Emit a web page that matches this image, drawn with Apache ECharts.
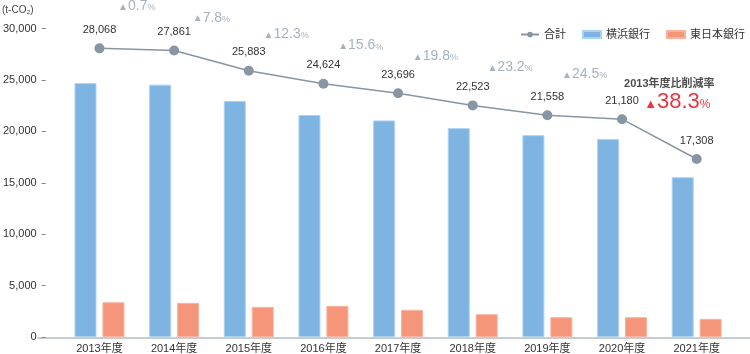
<!DOCTYPE html>
<html lang="ja">
<head>
    <meta charset="UTF-8">
    <title>CO2排出量</title>
    <script src="https://cdn.jsdelivr.net/npm/echarts@6/dist/echarts.min.js"></script>
    <style>
        html, body { margin: 0; padding: 0; background: #fff; }
        #chart { width: 750px; height: 354px; }
    </style>
</head>
<body>
<div id="chart"></div>
<script>
    var years = ['2013年度', '2014年度', '2015年度', '2016年度', '2017年度', '2018年度', '2019年度', '2020年度', '2021年度'];
    var totals = [28068, 27861, 25883, 24624, 23696, 22523, 21558, 21180, 17308];
    var yokohama = [24690, 24540, 22950, 21590, 21060, 20310, 19630, 19250, 15540];
    var higashiNihon = [3380, 3320, 2930, 3030, 2640, 2215, 1925, 1925, 1765];
    var cutRates = ['0.7', '7.8', '12.3', '15.6', '19.8', '23.2', '24.5', '38.3'];
    var yTicks = [0, 5000, 10000, 15000, 20000, 25000, 30000];

    var font = "'Liberation Sans', 'Noto Sans CJK JP', sans-serif";
    var gray = '#8796a2';

    // anchors for the reduction labels: halfway between two neighbouring totals
    var rateData = [];
    for (var i = 0; i < cutRates.length; i++) {
        var item = {
            value: [i + 0.5, (totals[i] + totals[i + 1]) / 2],
            rate: cutRates[i]
        };
        if (i === cutRates.length - 1) {
            item.label = {
                offset: [18, -37],
                formatter: function (p) {
                    return '{a|▲}{b|' + p.data.rate + '}{c|%}';
                },
                rich: {
                    a: { color: '#e60012', fontSize: 13, fontFamily: font, verticalAlign: 'bottom', padding: [0, 0, 2, 0] },
                    b: { color: '#e60012', fontSize: 22, fontFamily: font },
                    c: { color: '#e60012', fontSize: 12, fontFamily: font, verticalAlign: 'bottom', padding: [0, 0, 2, 0] }
                }
            };
        }
        rateData.push(item);
    }
    var last = rateData[rateData.length - 1].value;
    var titleData = [{
        value: [last[0], last[1]],
        label: { offset: [10, -55], formatter: '2013年度比削減率' }
    }];

    var chart = echarts.init(document.getElementById('chart'));
    var option = {
        animation: false,
        textStyle: { fontFamily: font },
        title: {
            text: '(t-CO₂)',
            left: 2,
            top: 5,
            padding: 0,
            textStyle: { color: '#444', fontSize: 10, fontWeight: 'normal', fontFamily: font }
        },
        legend: {
            top: 24,
            right: 0,
            itemGap: 16,
            itemWidth: 18,
            itemHeight: 7,
            textStyle: { fontSize: 11, color: '#333', fontFamily: font },
            data: [
                { name: '合計' },
                { name: '横浜銀行', icon: 'rect' },
                { name: '東日本銀行', icon: 'rect' }
            ]
        },
        grid: [
            { left: 58.5, right: 16, top: 28.5, bottom: 16.5 },
            { left: 38, right: 0, top: 28.5, bottom: 16.5 }
        ],
        xAxis: [
            {
                type: 'category',
                gridIndex: 0,
                data: years,
                axisLine: { show: false },
                axisTick: { show: false },
                axisLabel: { color: '#333', fontSize: 11, margin: 6, fontFamily: font }
            },
            {
                type: 'value',
                gridIndex: 0,
                min: -0.5,
                max: 8.5,
                show: false
            },
            {
                type: 'value',
                gridIndex: 1,
                min: 0,
                max: 1,
                axisLine: { show: true, onZero: false, lineStyle: { color: '#b5bcc2', width: 1.5 } },
                axisTick: { show: false },
                axisLabel: { show: false },
                splitLine: { show: false }
            }
        ],
        yAxis: [
            {
                type: 'value',
                gridIndex: 0,
                min: yTicks[0],
                max: yTicks[yTicks.length - 1],
                interval: 5000,
                offset: 16.5,
                axisLine: { show: true, onZero: false, lineStyle: { color: 'rgba(0,0,0,0)' } },
                axisTick: { show: true, length: 4, lineStyle: { color: '#888', width: 1 } },
                axisLabel: {
                    color: '#333',
                    fontSize: 11,
                    margin: 9,
                    fontFamily: font,
                    formatter: function (v) { return v.toLocaleString('en-US'); }
                },
                splitLine: { show: false }
            },
            {
                type: 'value',
                gridIndex: 1,
                min: 0,
                max: 1,
                show: false
            }
        ],
        series: [
            {
                name: '横浜銀行',
                type: 'bar',
                xAxisIndex: 0,
                yAxisIndex: 0,
                barWidth: 22,
                barGap: '27%',
                itemStyle: { color: '#7db4e2', borderColor: '#a9d3f3', borderWidth: 1 },
                data: yokohama
            },
            {
                name: '東日本銀行',
                type: 'bar',
                xAxisIndex: 0,
                yAxisIndex: 0,
                barWidth: 22,
                itemStyle: { color: '#f5967a', borderColor: '#f8b39d', borderWidth: 1 },
                data: higashiNihon
            },
            {
                name: '合計',
                type: 'line',
                xAxisIndex: 0,
                yAxisIndex: 0,
                symbol: 'circle',
                symbolSize: 10,
                z: 5,
                lineStyle: { color: gray, width: 1.5 },
                itemStyle: { color: gray },
                label: {
                    show: true,
                    position: 'top',
                    distance: 8,
                    color: '#333',
                    fontSize: 11,
                    fontFamily: font,
                    formatter: function (p) { return p.value.toLocaleString('en-US'); }
                },
                data: totals
            },
            {
                type: 'scatter',
                xAxisIndex: 1,
                yAxisIndex: 0,
                symbolSize: 1,
                itemStyle: { color: 'rgba(0,0,0,0)' },
                silent: true,
                label: {
                    show: true,
                    position: 'inside',
                    offset: [0, -43],
                    formatter: function (p) {
                        return '{a|▲}{b|' + p.data.rate + '}{c|%}';
                    },
                    rich: {
                        a: { color: '#8e9fae', fontSize: 10, fontFamily: font, verticalAlign: 'bottom', padding: [0, 0, 1, 0] },
                        b: { color: '#8e9fae', fontSize: 14, fontFamily: font },
                        c: { color: '#8e9fae', fontSize: 9, fontFamily: font, verticalAlign: 'bottom', padding: [0, 0, 1, 0] }
                    }
                },
                data: rateData
            },
            {
                type: 'scatter',
                xAxisIndex: 1,
                yAxisIndex: 0,
                symbolSize: 1,
                itemStyle: { color: 'rgba(0,0,0,0)' },
                silent: true,
                label: {
                    show: true,
                    position: 'inside',
                    color: '#222',
                    fontSize: 11,
                    fontWeight: 'bold',
                    fontFamily: font
                },
                data: titleData
            }
        ]
    };
    chart.setOption(option);
</script>
</body>
</html>
